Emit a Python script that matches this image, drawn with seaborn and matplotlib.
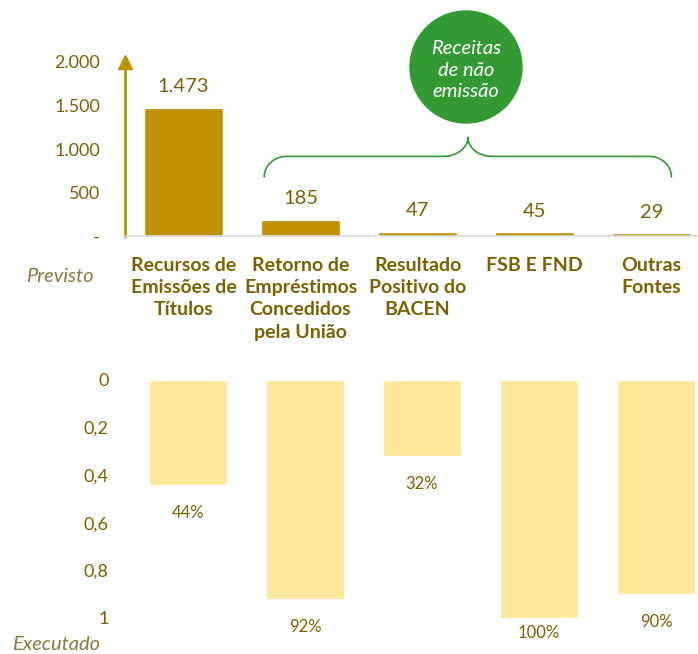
import matplotlib
matplotlib.use('Agg')
import matplotlib.pyplot as plt
from matplotlib.patches import Ellipse
from matplotlib.ticker import FuncFormatter
import numpy as np
import pandas as pd
import seaborn as sns

# data
categorias = ['Recursos de\nEmissões de\nTítulos',
              'Retorno de\nEmpréstimos\nConcedidos\npela União',
              'Resultado\nPositivo do\nBACEN',
              'FSB E FND',
              'Outras\nFontes']
previsto = [1473, 185, 47, 45, 29]
executado = [0.44, 0.92, 0.32, 1.00, 0.90]
ticks_previsto = [0, 500, 1000, 1500, 2000]
ticks_executado = [0, 0.2, 0.4, 0.6, 0.8, 1.0]

# colors
GOLD = '#BF9000'
LIGHT = '#FFE699'
TEXT = '#7F6000'
SOFT = '#8C7A3E'
GREEN = '#339933'
GREY = '#D9D9D9'

sns.set_theme(style='white')
plt.rcParams['font.family'] = ['Lato', 'DejaVu Sans']

W, H = 698, 654
fig = plt.figure(figsize=(W / 100, H / 100), dpi=100)


def px_box(left, top, right, bottom):
    return [left / W, 1 - bottom / H, (right - left) / W, (bottom - top) / H]


def fmt_milhar(v, pos):
    if v == 0:
        return '-'
    return '{:,.0f}'.format(v).replace(',', '.')


def fmt_decimal(v, pos):
    if v == 0 or v == 1:
        return '{:.0f}'.format(v)
    return '{:.1f}'.format(v).replace('.', ',')


def draw_brace(ax, x0, x1, y0, y1, y2, rx, rx2):
    """Brace pointing up, built from quarter ellipses (data coords)."""
    t = np.linspace(0, np.pi / 2, 30)
    xm = (x0 + x1) / 2.
    left_end_x = x0 + rx - rx * np.cos(t)
    left_end_y = y0 + (y1 - y0) * np.sin(t)
    mid_x = xm - rx2 + rx2 * np.sin(t)
    mid_y = y2 - (y2 - y1) * np.cos(t)
    xs = np.concatenate((left_end_x, mid_x))
    ys = np.concatenate((left_end_y, mid_y))
    xs = np.concatenate((xs, 2 * xm - xs[::-1]))
    ys = np.concatenate((ys, ys[::-1]))
    ax.plot(xs, ys, color=GREEN, lw=1.2, clip_on=False)


# ---- top: previsto ----
ax1 = fig.add_axes(px_box(125, 62, 125 + 5 * 117, 236))
df_prev = pd.DataFrame({'cat': categorias, 'val': previsto})
sns.barplot(data=df_prev, x='cat', y='val', color=GOLD, saturation=1,
            width=0.667, ax=ax1)
ax1.set_xlim(-0.5, 4.5)
ax1.set_ylim(0, 2000)
ax1.set_yticks(ticks_previsto)
ax1.yaxis.set_major_formatter(FuncFormatter(fmt_milhar))
ax1.set_xlabel('')
ax1.set_ylabel('')
for s in ['top', 'right']:
    ax1.spines[s].set_visible(False)
ax1.spines['left'].set_color(GOLD)
ax1.spines['left'].set_linewidth(2)
ax1.spines['bottom'].set_color(GREY)
ax1.spines['bottom'].set_linewidth(1.2)
ax1.plot([0], [1], marker='^', color=GOLD, markersize=10,
         transform=ax1.transAxes, clip_on=False)
ax1.tick_params(axis='y', length=0, pad=18, labelsize=13, labelcolor=TEXT)
ax1.tick_params(axis='x', which='major', length=0, pad=15)
ax1.set_xticks(np.arange(-0.5, 4.5, 1), minor=True)
ax1.tick_params(axis='x', which='minor', length=7, width=1.2, color=GREY,
                direction='out')
for lbl in ax1.get_xticklabels():
    lbl.set_fontsize(14)
    lbl.set_fontweight('bold')
    lbl.set_color(TEXT)
    lbl.set_linespacing(1.38)
    lbl.set_va('top')
ax1.bar_label(ax1.containers[0], labels=[fmt_milhar(v, None) for v in previsto],
              padding=9, fontsize=14.5, color=TEXT)

draw_brace(ax1, 0.69, 4.17, 680, 915, 1135, 0.19, 0.21)

# circle label
fig.patches.append(Ellipse((466 / W, 1 - 67 / H), 112 / W, 112 / H,
                           transform=fig.transFigure, color=GREEN, zorder=5))
fig.text(466 / W, 1 - 70 / H, 'Receitas\nde não\nemissão', color='white',
         style='italic', fontsize=14.5, ha='center', va='center',
         linespacing=1.3, zorder=6)

fig.text(60 / W, 1 - 276 / H, 'Previsto', style='italic', fontsize=14.5,
         color=SOFT, ha='center', va='center')

# ---- bottom: executado ----
ax2 = fig.add_axes(px_box(129.5, 380, 129.5 + 5 * 117, 618))
df_exec = pd.DataFrame({'cat': categorias, 'val': executado})
sns.barplot(data=df_exec, x='cat', y='val', color=LIGHT, saturation=1,
            width=0.667, ax=ax2)
ax2.set_xlim(-0.5, 4.5)
ax2.set_ylim(1, 0)
ax2.set_yticks(ticks_executado)
ax2.yaxis.set_major_formatter(FuncFormatter(fmt_decimal))
ax2.set_xticks([])
ax2.set_xlabel('')
ax2.set_ylabel('')
for s in ax2.spines.values():
    s.set_visible(False)
ax2.tick_params(axis='y', length=0, pad=15, labelsize=13, labelcolor=TEXT)
# labels below bar ends, kept inside the chart area at the bottom
for i, v in enumerate(executado):
    ax2.text(i, min(v + 0.118, 1.063), '{:.0f}%'.format(v * 100),
             ha='center', va='center', fontsize=12, color=TEXT,
             clip_on=False)

fig.text(56 / W, 1 - 645 / H, 'Executado', style='italic', fontsize=14.5,
         color=SOFT, ha='center', va='center')

fig.savefig('out.png', dpi=100)
